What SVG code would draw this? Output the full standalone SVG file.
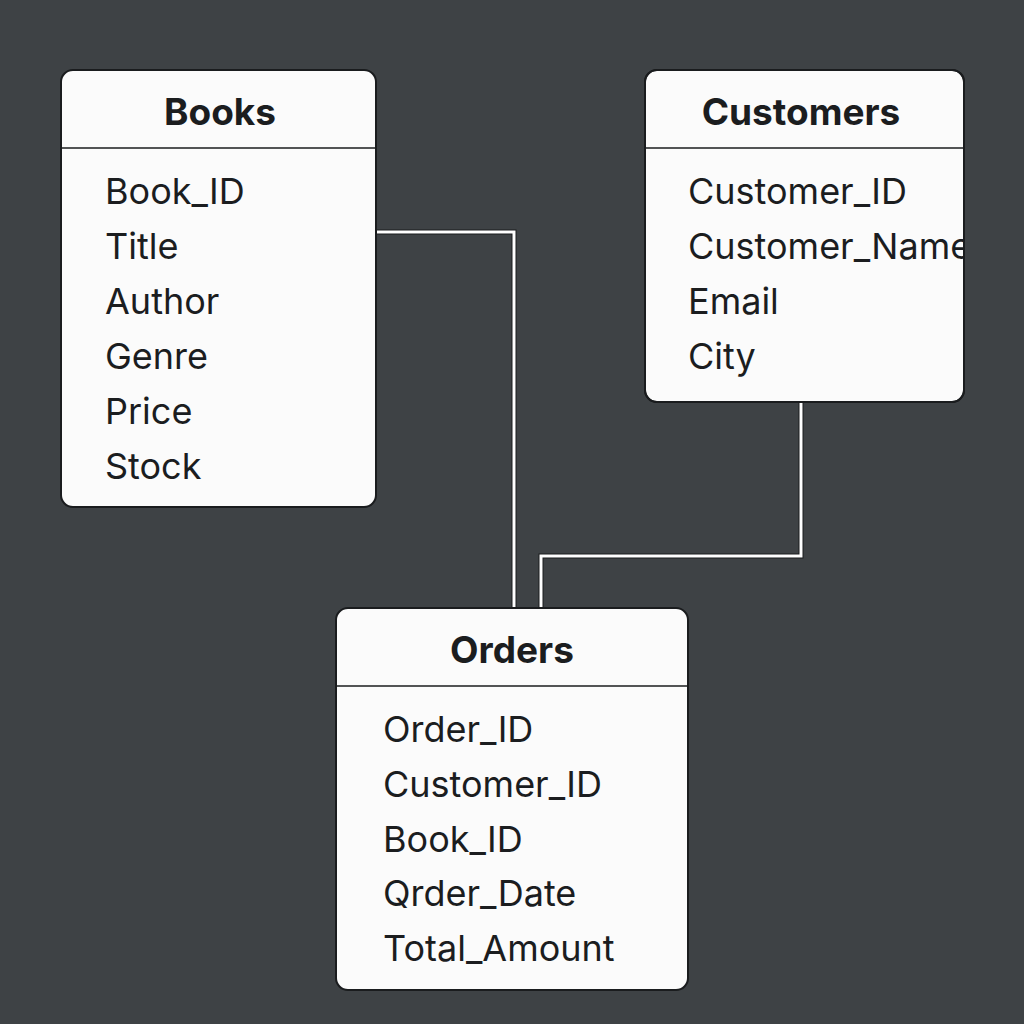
<svg xmlns="http://www.w3.org/2000/svg" width="1024" height="1024" viewBox="0 0 1024 1024">
<defs>
<style>
.box{fill:#fbfbfb;stroke:#1a1c1e;stroke-width:2}
.sep{stroke:#1a1c1e;stroke-width:1.5}
.title{font-family:Inter,"Liberation Sans",sans-serif;font-weight:bold;font-size:37px;fill:#1b1d1f;text-anchor:middle}
.field{font-family:Inter,"Liberation Sans",sans-serif;font-size:36px;fill:#1b1d1f}
.wire-o{fill:none;stroke:#1a1c1e;stroke-width:5}
.wire{fill:none;stroke:#ffffff;stroke-width:3}
</style>
<clipPath id="clipCust"><rect x="645" y="70" width="319" height="332" rx="12"/></clipPath>
</defs>
<rect width="1024" height="1024" fill="#3e4245"/>
<g id="connectors">
<path class="wire-o" d="M376 232 H514 V608"/>
<path class="wire" d="M376 232 H514 V608"/>
<path class="wire-o" d="M801 402 V556 H541 V608"/>
<path class="wire" d="M801 402 V556 H541 V608"/>
</g>
<g id="books">
<rect class="box" x="61" y="70" width="315" height="437" rx="12"/>
<line class="sep" x1="61" y1="148" x2="376" y2="148"/>
<text class="title" x="220" y="125">Books</text>
<text class="field" x="105" y="204">Book_ID</text>
<text class="field" x="105" y="259">Title</text>
<text class="field" x="105" y="314">Author</text>
<text class="field" x="105" y="369">Genre</text>
<text class="field" x="105" y="424">Price</text>
<text class="field" x="105" y="479">Stock</text>
</g>
<g id="customers">
<rect class="box" x="645" y="70" width="319" height="332" rx="12"/>
<line class="sep" x1="645" y1="148" x2="964" y2="148"/>
<text class="title" x="801" y="125">Customers</text>
<g clip-path="url(#clipCust)">
<text class="field" x="688" y="204">Customer_ID</text>
<text class="field" x="688" y="259">Customer_Name</text>
<text class="field" x="688" y="314">Email</text>
<text class="field" x="688" y="369">City</text>
</g>
<rect x="645" y="70" width="319" height="332" rx="12" fill="none" stroke="#1a1c1e" stroke-width="2"/>
</g>
<g id="orders">
<rect class="box" x="336" y="608" width="352" height="382" rx="12"/>
<line class="sep" x1="336" y1="686" x2="688" y2="686"/>
<text class="title" x="512" y="663">Orders</text>
<text class="field" x="383" y="742">Order_ID</text>
<text class="field" x="383" y="797">Customer_ID</text>
<text class="field" x="383" y="852">Book_ID</text>
<text class="field" x="383" y="906">Qrder_Date</text>
<text class="field" x="383" y="961">Total_Amount</text>
</g>
</svg>
